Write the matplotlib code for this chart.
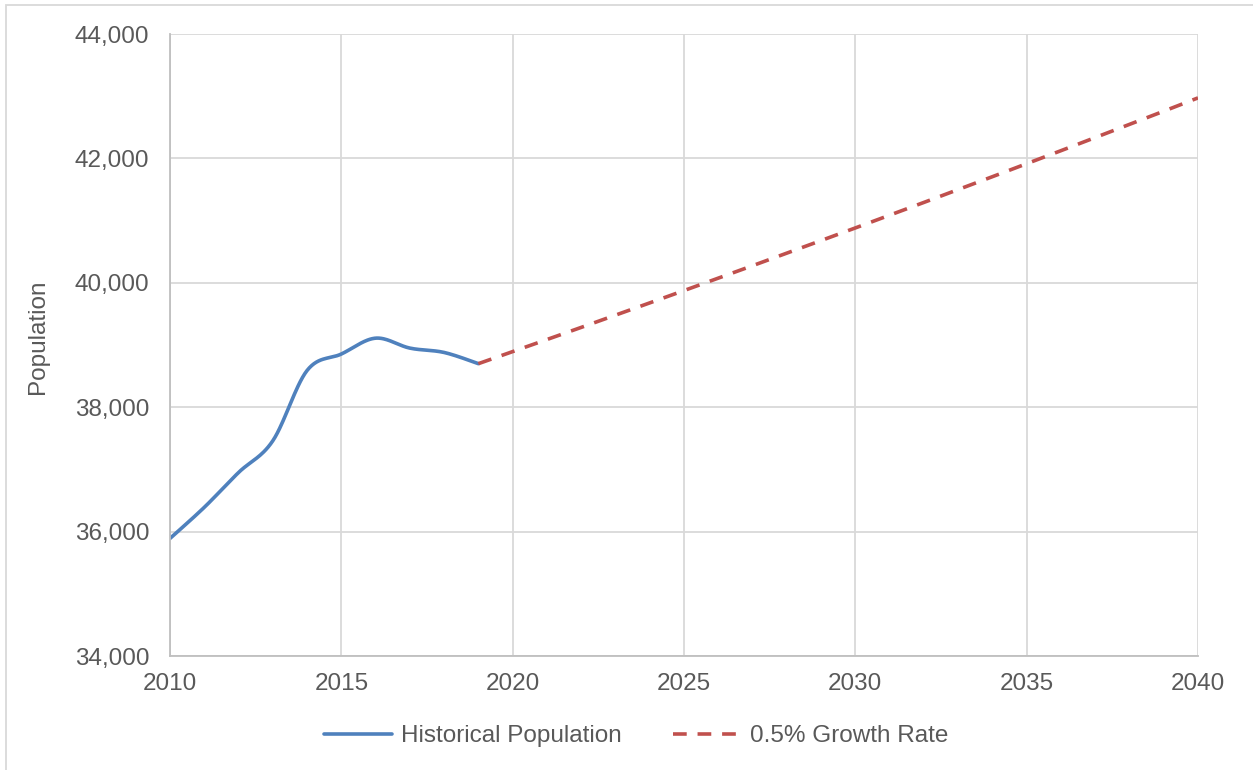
import numpy as np
import matplotlib.pyplot as plt
from matplotlib.patches import Rectangle

plt.rcParams['font.family'] = ['Liberation Sans', 'DejaVu Sans']

# historical population counts
hist_years = [2010, 2011, 2012, 2013, 2014, 2015, 2016, 2017, 2018, 2019]
hist_pop = [35890, 36390, 36950, 37460, 38590, 38855, 39110, 38950, 38880, 38700]

# projection at 0.5% per year
proj_years = list(range(2019, 2041))
proj_pop = [38700, 38894, 39088, 39283, 39480, 39677, 39875, 40075, 40275, 40477,
            40679, 40882, 41087, 41292, 41499, 41706, 41915, 42124, 42335, 42547,
            42759, 42973]

x_ticks = [2010, 2015, 2020, 2025, 2030, 2035, 2040]
y_ticks = [34000, 36000, 38000, 40000, 42000, 44000]


def smooth(xs, ys, n=30):
    # catmull-rom style curve through the points, like a spreadsheet smoothed line
    xs = np.asarray(xs, float)
    ys = np.asarray(ys, float)
    px = np.concatenate([[xs[0]], xs, [xs[-1]]])
    py = np.concatenate([[ys[0]], ys, [ys[-1]]])
    out_x, out_y = [], []
    for i in range(1, len(px) - 2):
        t = np.linspace(0, 1, n, endpoint=False)
        for p, out in ((px, out_x), (py, out_y)):
            p0, p1, p2, p3 = p[i - 1], p[i], p[i + 1], p[i + 2]
            b0 = p1
            b1 = p1 + (p2 - p0) / 6
            b2 = p2 - (p3 - p1) / 6
            b3 = p2
            out.extend((1 - t) ** 3 * b0 + 3 * (1 - t) ** 2 * t * b1
                       + 3 * (1 - t) * t ** 2 * b2 + t ** 3 * b3)
    out_x.append(xs[-1])
    out_y.append(ys[-1])
    return out_x, out_y


fs = 17.5
fig = plt.figure(figsize=(12.53, 7.70), dpi=100)
ax = fig.add_axes([170 / 1253, 1 - 656 / 770, (1198 - 170) / 1253, (656 - 34) / 770])

sx, sy = smooth(hist_years, hist_pop)
ax.plot(sx, sy, color='#4f81bd', lw=2.6, label='Historical Population',
        solid_capstyle='round')
ax.plot(proj_years, proj_pop, color='#c0504d', lw=2.6, ls=(0, (3.8, 3.0)),
        label='0.5% Growth Rate')

ax.set_xlim(2010, 2040)
ax.set_ylim(34000, 44000)
ax.set_xticks(x_ticks)
ax.set_yticks(y_ticks)
ax.set_yticklabels([f'{v:,}' for v in y_ticks])
ax.tick_params(length=0, labelsize=fs, labelcolor='#595959')
ax.tick_params(axis='y', pad=15)
ax.tick_params(axis='x', pad=12)
ax.grid(True, color='#d9d9d9', lw=1.3)
ax.set_axisbelow(True)
for side in ['top', 'right']:
    ax.spines[side].set_visible(False)
for side in ['left', 'bottom']:
    ax.spines[side].set_color('#bfbfbf')
    ax.spines[side].set_linewidth(1.3)

fig.text(38 / 1253, 1 - 337 / 770, 'Population', rotation=90, ha='center',
         va='center', fontsize=fs, color='#595959')

ax.legend(loc='center', bbox_to_anchor=(636 / 1253, 1 - 736 / 770),
          bbox_transform=fig.transFigure, ncol=2, frameon=False, fontsize=fs,
          labelcolor='#595959', handlelength=2.8, handletextpad=0.37,
          columnspacing=2.1)

# chart area border
fig.patches.append(Rectangle((6 / 1253, -0.05), 1.1, 1 - 5 / 770 + 0.05,
                             transform=fig.transFigure, fill=False,
                             edgecolor='#d9d9d9', lw=1.3))

fig.savefig('out.png', dpi=100)
